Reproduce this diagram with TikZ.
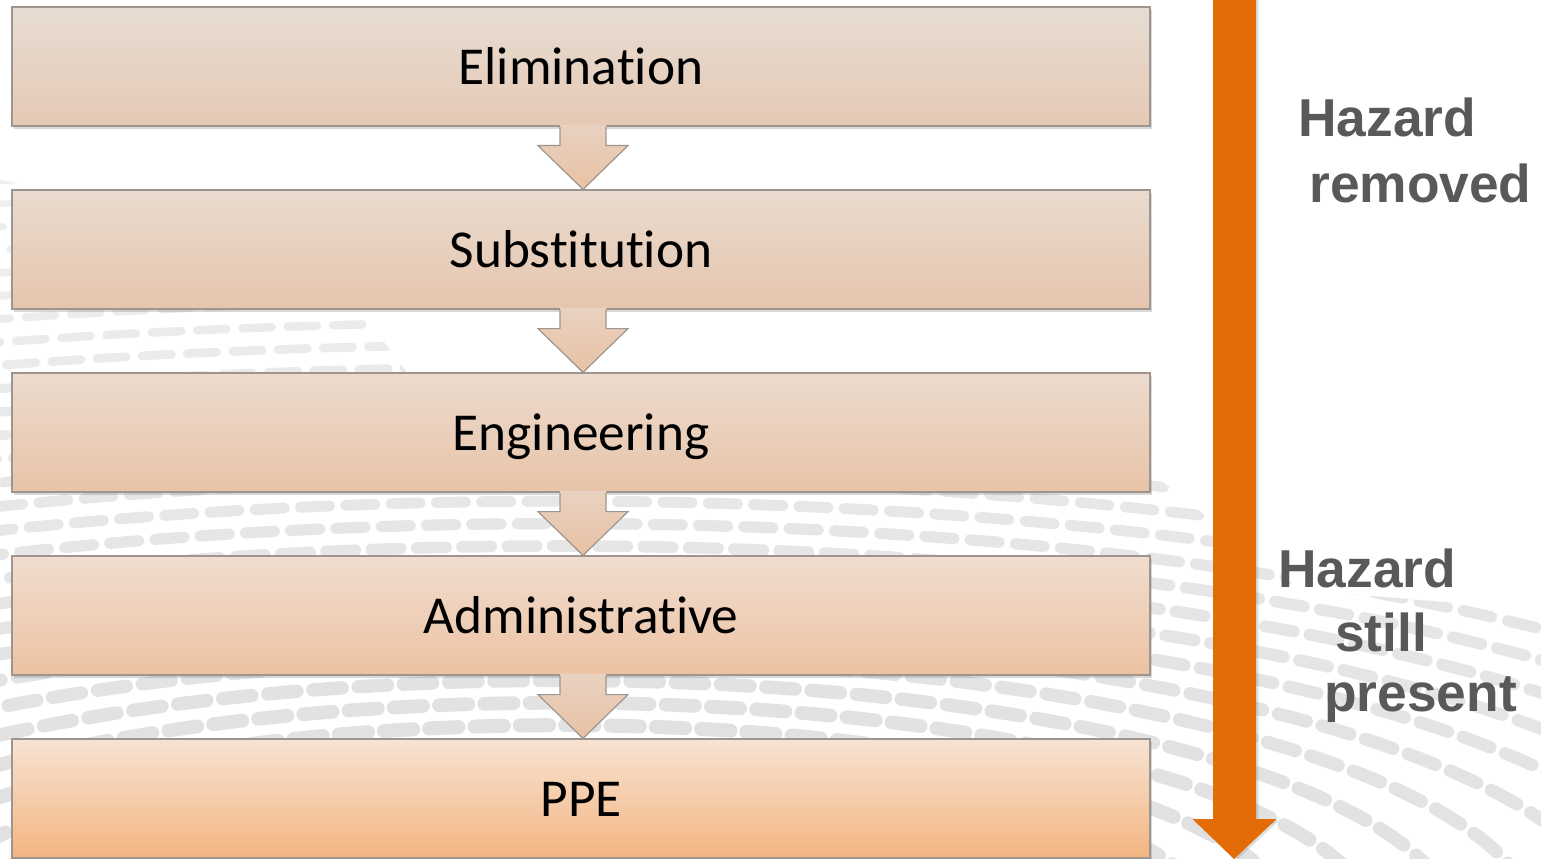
\documentclass[tikz,border=0pt]{standalone}
\usepackage{fontspec}
\setmainfont{Carlito}[Ligatures={NoCommon}]
\newfontfamily\hazfont{Liberation Sans}
\usetikzlibrary{shadows,calc}
\definecolor{hazgray}{HTML}{595959}
\definecolor{bigorange}{HTML}{E36C09}
\definecolor{edgegray}{HTML}{9E968E}
\definecolor{dotgray}{HTML}{E0E0E0}
\definecolor{aTop}{HTML}{E9D2C1}
\definecolor{aBot}{HTML}{E8C1A4}
\begin{document}
\begin{tikzpicture}[x=0.75pt,y=-0.75pt,
  stepbox/.style={draw=edgegray, line width=0.9pt, minimum width=853.5pt,
    minimum height=89.25pt, inner sep=0pt, text height=27pt, text depth=0pt,
    font=\fontsize{40}{46}\selectfont,
    drop shadow={opacity=0.3, shadow xshift=1.5pt, shadow yshift=-2.5pt}},
  smallarrfill/.style={top color=aTop, bottom color=aBot},
  smallarredge/.style={draw=edgegray, line width=0.9pt, line join=miter},
  dotline/.style={line cap=round, dash pattern=on 22pt off 12pt},
  hazard/.style={font=\hazfont\bfseries\fontsize{40}{44}\selectfont, text=hazgray, inner sep=0pt, anchor=base west}]
\useasboundingbox (0,0) rectangle (1541,859);
\fill[white] (0,0) rectangle (1541,859);

% background swirl of dots
\begin{scope}
  \clip (0,180) -- (300,230) -- (480,470) -- (1160,480) -- (1300,590) -- (1541,610) -- (1541,859) -- (0,859) -- cycle;
  \foreach \r [evaluate=\r as \lw using {4+7*((1300-\r)/1050)},
               evaluate=\r as \cl using {100-55*((\r-250)/1050)}] in {250,285,...,1300}
    \draw[dotline, draw=dotgray!\cl, line width=\lw pt] (560,930) ellipse [x radius=2.3*\r, y radius=0.64*\r];
\end{scope}

% boxes
\node[stepbox, top color={rgb,255:red,231;green,221;blue,211}, bottom color={rgb,255:red,229;green,201;blue,181}] (b1) at (581,66.5) {Elimination};
\node[stepbox, top color={rgb,255:red,233;green,219;blue,206}, bottom color={rgb,255:red,230;green,197;blue,174}] (b2) at (581,249.5) {Substitution};
\node[stepbox, top color={rgb,255:red,236;green,219;blue,206}, bottom color={rgb,255:red,232;green,196;blue,168}] (b3) at (581,432.5) {Engineering};
\node[stepbox, top color={rgb,255:red,240;green,221;blue,207}, bottom color={rgb,255:red,237;green,194;blue,162}] (b4) at (581,615.5) {Administrative};
\node[stepbox, top color={rgb,255:red,247;green,227;blue,211}, bottom color={rgb,255:red,243;green,181;blue,129}] (b5) at (581,798.5) {PPE};

% small block arrows between the boxes
\foreach \a/\b in {b1/b2,b2/b3,b3/b4,b4/b5}{
  \path[smallarrfill] ($(\a.south)+(-21,-2)$) -- ($(\a.south)+(-21,19)$) -- ($(\a.south)+(-43,19)$)
     -- ($(\b.north)+(2,0)$) -- ($(\a.south)+(47,19)$) -- ($(\a.south)+(25,19)$) -- ($(\a.south)+(25,-2)$) -- cycle;
  \draw[smallarredge] ($(\a.south)+(-21,0.6)$) -- ($(\a.south)+(-21,19)$) -- ($(\a.south)+(-43,19)$)
     -- ($(\b.north)+(2,0)$) -- ($(\a.south)+(47,19)$) -- ($(\a.south)+(25,19)$) -- ($(\a.south)+(25,0.6)$);
}

% big orange arrow
\coordinate (bigtop) at (1234.5,-3);
\coordinate (bigtip) at (1234,859);
\fill[bigorange, drop shadow={opacity=0.25, shadow xshift=2pt, shadow yshift=-1pt}]
  ($(bigtop)+(-21.5,0)$) -- ($(bigtop)+(21.5,0)$) -- ($(bigtop)+(21.5,822)$) -- ($(bigtop)+(42,822)$)
  -- (bigtip) -- ($(bigtop)+(-42,822)$) -- ($(bigtop)+(-21.5,822)$) -- cycle;

% side texts
\node[hazard] (h1) at (1298,137) {Hazard};
\node[hazard] (h2) at (1309,203) {removed};
\node[hazard] (h3) at (1278,587) {Hazard};
\node[hazard] (h4) at (1335,651) {still};
\node[hazard] (h5) at (1324,711) {present};
\end{tikzpicture}
\end{document}
